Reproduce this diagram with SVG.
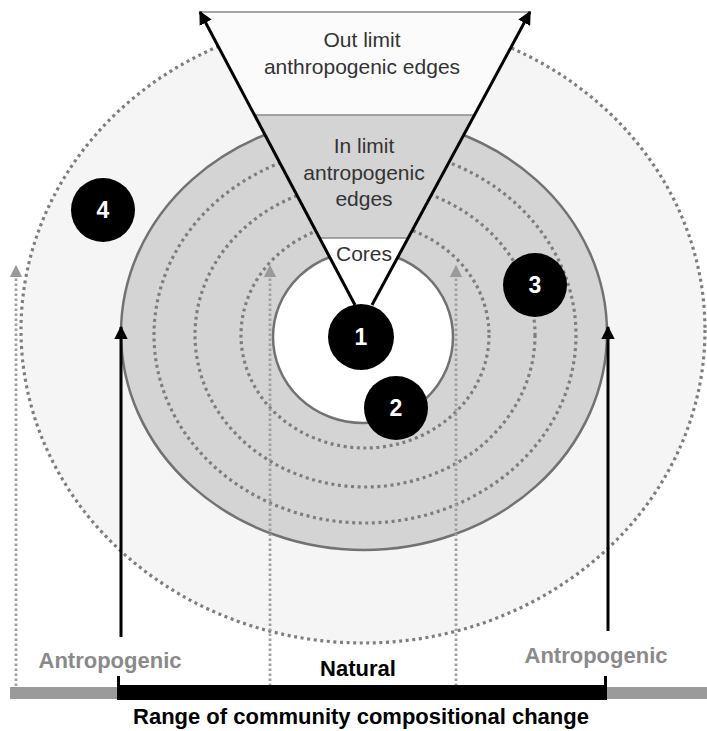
<svg xmlns="http://www.w3.org/2000/svg" width="707" height="731" viewBox="0 0 707 731">
<style>
.dot{fill:none;stroke:#7e7e7e;stroke-width:3.2;stroke-dasharray:3 3.6;stroke-linecap:butt}
.sep{stroke:#8a8a8a;stroke-width:1.5}
.lbl{font-family:"Liberation Sans",Arial,sans-serif;fill:#333;font-size:21px;text-anchor:middle}
.num{font-family:"Liberation Sans",Arial,sans-serif;fill:#fff;font-size:23px;font-weight:bold;text-anchor:middle}
.bot{font-family:"Liberation Sans",Arial,sans-serif;font-weight:bold;font-size:22px;text-anchor:middle}
.blk{stroke:#000;stroke-width:3;fill:none}
.gdash{stroke:#a0a0a0;stroke-width:2.8;stroke-dasharray:2.5 2.5;fill:none}
</style>
<defs>
<marker id="ab" viewBox="0 0 10 10" refX="9" refY="5" markerWidth="4.5" markerHeight="4.5" orient="auto" markerUnits="strokeWidth">
<path d="M0,0 L10,5 L0,10 z" fill="#000"/>
</marker>
<marker id="ag" viewBox="0 0 10 10" refX="9" refY="5" markerWidth="4.5" markerHeight="4.5" orient="auto" markerUnits="strokeWidth">
<path d="M0,0 L10,5 L0,10 z" fill="#9a9a9a"/>
</marker>
</defs>
<rect width="707" height="731" fill="#fff"/>
<g id="zone-outer">
<ellipse cx="363" cy="330" rx="342" ry="313" fill="#f5f5f5"/>
<ellipse cx="363" cy="330" rx="342" ry="313" class="dot"/>
</g>
<g id="zone-in-limit">
<ellipse cx="364" cy="333" rx="243" ry="217" fill="#d4d4d4" stroke="#727272" stroke-width="2.5"/>
<ellipse cx="365" cy="335" rx="211" ry="188" class="dot"/>
<ellipse cx="365" cy="335" rx="170" ry="152" class="dot"/>
<ellipse cx="365" cy="335" rx="124" ry="113" class="dot"/>
</g>
<g id="zone-cores">
<ellipse cx="363" cy="337" rx="90" ry="86" fill="#fff" stroke="#727272" stroke-width="2.5"/>
</g>
<g id="wedge">
<polygon points="200,12 530,12 474.5,115 254.5,115" fill="#fbfbfb"/>
<polygon points="254.5,115 474.5,115 408,238 319.6,238" fill="#d4d4d4"/>
<polygon points="319.6,238 408,238 372,305 355,305" fill="#fff"/>
<line x1="200" y1="12" x2="530" y2="12" class="sep"/>
<line x1="254.5" y1="115" x2="474.5" y2="115" class="sep"/>
<line x1="319.6" y1="238" x2="408" y2="238" class="sep"/>
<text class="lbl" x="362" y="47">Out limit</text>
<text class="lbl" x="362" y="74">anthropogenic edges</text>
<text class="lbl" x="364" y="153">In limit</text>
<text class="lbl" x="364" y="180">antropogenic</text>
<text class="lbl" x="364" y="206">edges</text>
<text class="lbl" x="364" y="261" font-size="19">Cores</text>
</g>
<g id="connectors">
<line x1="355" y1="305" x2="200" y2="12" class="blk" marker-end="url(#ab)"/>
<line x1="372" y1="305" x2="530" y2="12" class="blk" marker-end="url(#ab)"/>
<line x1="121" y1="637" x2="121" y2="327" class="blk" marker-end="url(#ab)"/>
<line x1="608" y1="631" x2="608" y2="327" class="blk" marker-end="url(#ab)"/>
<line x1="16" y1="686" x2="16" y2="266" class="gdash" marker-end="url(#ag)"/>
<line x1="270" y1="686" x2="270" y2="266" class="gdash" marker-end="url(#ag)"/>
<line x1="456" y1="686" x2="456" y2="266" class="gdash" marker-end="url(#ag)"/>
</g>
<g id="node-1"><circle cx="361" cy="337" r="33" fill="#000"/><text class="num" x="361" y="345">1</text></g>
<g id="node-2"><circle cx="396" cy="408" r="32" fill="#000"/><text class="num" x="396" y="416">2</text></g>
<g id="node-3"><circle cx="535" cy="285" r="32" fill="#000"/><text class="num" x="535" y="293">3</text></g>
<g id="node-4"><circle cx="103" cy="210" r="32" fill="#000"/><text class="num" x="103" y="218">4</text></g>
<g id="axis">
<rect x="10" y="687" width="697" height="12" fill="#9a9a9a"/>
<rect x="117" y="685" width="490" height="15" fill="#000"/>
<line x1="118.5" y1="676" x2="118.5" y2="687" stroke="#000" stroke-width="3"/>
<line x1="605.5" y1="676" x2="605.5" y2="687" stroke="#000" stroke-width="3"/>
<text class="bot" x="110" y="668" fill="#8a8a8a">Antropogenic</text>
<text class="bot" x="358" y="676" fill="#000">Natural</text>
<text class="bot" x="596" y="663" fill="#8a8a8a">Antropogenic</text>
<text class="bot" x="361" y="724" fill="#000" font-size="21">Range of community compositional change</text>
</g>
</svg>
